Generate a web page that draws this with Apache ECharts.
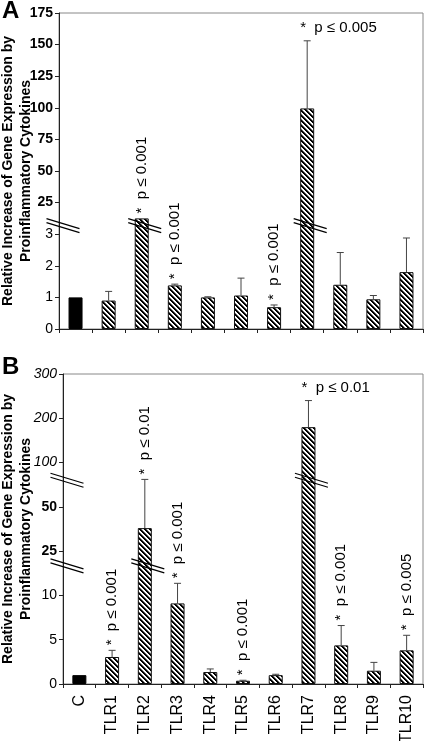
<!DOCTYPE html>
<html><head><meta charset="utf-8">
<script src="https://cdn.jsdelivr.net/npm/echarts@6/dist/echarts.min.js"></script>
<style>html,body{margin:0;padding:0;background:#fff;}#c{width:425px;height:741px;}</style>
</head><body><div id="c"></div>
<script>
// ---------- data ----------
const categories = ['C','TLR1','TLR2','TLR3','TLR4','TLR5','TLR6','TLR7','TLR8','TLR9','TLR10'];

// Panel A
const ticksA = [0,1,2,3,25,50,75,100,125,150,175];
const meanA  = [1.0,0.9,14,1.38,1.0,1.06,0.69,99.5,1.40,0.94,1.80];
const errA   = [null,1.19,null,1.42,1.02,1.61,0.76,153,2.42,1.06,2.88];
const annA   = ['','','*  p ≤ 0.001','*  p ≤ 0.001','','','*  p ≤ 0.001','*  p ≤ 0.005','','',''];
const annHorizA = [false,false,false,false,false,false,false,true,false,false,false];
const breakCatsA = [-1, 2, 7];      // -1 = on the y axis
const breakValsA = [9, 9, 9];

// Panel B
const ticksB = [0,5,10,25,50,100,200,300];
const meanB  = [1.0,3.05,38,9.1,1.35,0.37,1.0,180,4.36,1.5,3.8];
const errB   = [null,3.8,81,14.1,1.7,0.42,1.1,240,6.6,2.44,5.5];
const annB   = ['','*  p ≤ 0.001','*  p ≤ 0.01','*  p ≤ 0.001','','*  p ≤ 0.001','','*  p ≤ 0.01','*  p ≤ 0.001','','*  p ≤ 0.005'];
const annHorizB = [false,false,false,false,false,false,false,true,false,false,false];
const breakCatsB = [-1, -1, 2, 7];
const breakValsB = [20, 80, 20, 80];

const yTitle = 'Relative Increase of Gene Expression by\nProinflammatory Cytokines';

// ---------- helpers ----------
const FONT = 'Liberation Sans, Arial, Helvetica, sans-serif';
function toT(v, ticks){
  for (let i = 0; i < ticks.length - 1; i++) {
    if (v <= ticks[i+1]) return i + (v - ticks[i]) / (ticks[i+1] - ticks[i]);
  }
  return ticks.length - 1;
}
function hatchCanvas(){
  const p = 5, c = document.createElement('canvas');
  c.width = p; c.height = p;
  const ctx = c.getContext('2d');
  const img = ctx.createImageData(p, p);
  for (let y = 0; y < p; y++) for (let x = 0; x < p; x++) {
    const k = ((x - y) % p + p) % p;
    const g = k < 2 ? 0 : (k === 2 ? 110 : 255);
    const o = (y * p + x) * 4;
    img.data[o] = g; img.data[o+1] = g; img.data[o+2] = g; img.data[o+3] = 255;
  }
  ctx.putImageData(img, 0, 0);
  return c;
}
const hatch = hatchCanvas();

function barSeries(gi, mean, ticks){
  return {
    type:'bar', xAxisIndex:gi, yAxisIndex:gi, barWidth:14, z:2,
    data: mean.map((v,i)=>({value: toT(v,ticks), itemStyle: i===0 ? {color:'#000', borderColor:'#000'} : undefined})),
    itemStyle:{color:{image:hatch, repeat:'repeat'}, borderColor:'#111', borderWidth:1},
    silent:true, animation:false
  };
}
function errSeries(gi, mean, err, ticks){
  return {
    type:'custom', xAxisIndex:gi, yAxisIndex:gi, z:3, animation:false, silent:true,
    data: mean.map((v,i)=>[i, toT(v,ticks), err[i]==null ? -1 : toT(err[i],ticks)]),
    renderItem:(params, api)=>{
      const e = api.value(2);
      if (e < 0) return null;
      const b = api.coord([api.value(0), api.value(1)]);
      const t = api.coord([api.value(0), e]);
      return {type:'group', children:[
        {type:'line', shape:{x1:b[0], y1:b[1], x2:t[0], y2:t[1]}, style:{stroke:'#444', lineWidth:1}},
        {type:'line', shape:{x1:t[0]-3.5, y1:t[1], x2:t[0]+3.5, y2:t[1]}, style:{stroke:'#444', lineWidth:1}}
      ]};
    }
  };
}
function annSeries(gi, mean, err, ann, horiz, ticks){
  return {
    type:'custom', xAxisIndex:gi, yAxisIndex:gi, z:4, animation:false, silent:true, clip:false,
    data: mean.map((v,i)=>[i, toT(err[i]==null ? v : Math.max(v, err[i]), ticks)]),
    renderItem:(params, api)=>{
      const i = params.dataIndex;
      if (!ann[i]) return null;
      const p = api.coord([api.value(0), api.value(1)]);
      if (horiz[i]) {
        return {type:'text', x:p[0]-7, y:p[1]-5,
          style:{text:ann[i], align:'left', verticalAlign:'bottom', fontSize:15, fontFamily:FONT, fill:'#000'}};
      }
      return {type:'text', x:p[0], y:p[1]-5, rotation:Math.PI/2,
        style:{text:ann[i], align:'left', verticalAlign:'middle', fontSize:15, fontFamily:FONT, fill:'#000'}};
    }
  };
}
function breakSeries(gi, cats, vals, ticks){
  return {
    type:'custom', xAxisIndex:gi, yAxisIndex:gi, z:5, animation:false, silent:true, clip:false,
    data: cats.map((c,i)=>[c, toT(vals[i], ticks)]),
    renderItem:(params, api)=>{
      const c = api.value(0);
      const bw = api.size([1,0])[0];
      let p = api.coord([Math.max(c,0), api.value(1)]);
      let cx = c < 0 ? p[0] - bw/2 + 4 : p[0] + 3;
      const y = p[1];
      const l = 16.5, d = 5;
      return {type:'group', children:[
        {type:'line', shape:{x1:cx-l, y1:y-d-2, x2:cx+l, y2:y+d-2}, style:{stroke:'#000', lineWidth:1.2}},
        {type:'line', shape:{x1:cx-l, y1:y-d+2, x2:cx+l, y2:y+d+2}, style:{stroke:'#000', lineWidth:1.2}}
      ]};
    }
  };
}
function yAxis(gi, ticks, styler, nameGap){
  return {
    type:'value', gridIndex:gi, min:0, max:ticks.length-1, interval:1,
    axisLine:{show:true, lineStyle:{color:'#222', width:1}},
    axisTick:{show:true, length:4, lineStyle:{color:'#222'}},
    splitLine:{show:false},
    axisLabel:{
      margin:6, color:'#000', fontSize:14, fontFamily:FONT,
      formatter:(v)=>'{' + styler(v) + '|' + ticks[v] + '}',
      rich:{
        n:{fontSize:14, fontFamily:FONT, color:'#000'},
        b:{fontSize:14, fontFamily:FONT, color:'#000', fontWeight:'bold'},
        i:{fontSize:14, fontFamily:FONT, color:'#000', fontStyle:'italic'}
      }
    },
    name:yTitle, nameLocation:'middle', nameGap:nameGap, nameRotate:90, nameMoveOverlap:false,
    nameTextStyle:{fontWeight:'bold', fontSize:14, fontFamily:FONT, color:'#000', lineHeight:18}
  };
}
function xAxis(gi, showLabels){
  return {
    type:'category', gridIndex:gi, data:categories,
    axisLine:{show:true, lineStyle:{color:'#222', width:1}},
    axisTick:{show:true, length:4, interval:0, lineStyle:{color:'#222'}},
    axisLabel:{show:showLabels, interval:0, rotate:90, margin:11, fontSize:16, fontFamily:FONT, color:'#000'}
  };
}

const chart = echarts.init(document.getElementById('c'), null, {renderer:'canvas'});
chart.setOption({
  animation:false,
  backgroundColor:'#fff',
  grid:[
    {left:59, top:13, width:364, height:316, show:true, borderColor:'#888', borderWidth:1, backgroundColor:'transparent', containLabel:false, outerBoundsMode:'none'},
    {left:63, top:374, width:360, height:310, show:true, borderColor:'#888', borderWidth:1, backgroundColor:'transparent', containLabel:false, outerBoundsMode:'none'}
  ],
  xAxis:[xAxis(0,false), xAxis(1,true)],
  yAxis:[
    yAxis(0, ticksA, v => v >= 4 ? 'b' : 'n', 24),
    yAxis(1, ticksB, v => v >= 5 ? 'i' : (v >= 3 ? 'b' : 'n'), 28)
  ],
  series:[
    barSeries(0, meanA, ticksA), errSeries(0, meanA, errA, ticksA), annSeries(0, meanA, errA, annA, annHorizA, ticksA), breakSeries(0, breakCatsA, breakValsA, ticksA),
    barSeries(1, meanB, ticksB), errSeries(1, meanB, errB, ticksB), annSeries(1, meanB, errB, annB, annHorizB, ticksB), breakSeries(1, breakCatsB, breakValsB, ticksB)
  ],
  graphic:[
    {type:'text', left:2, top:-1, style:{text:'A', fontSize:24, fontWeight:'bold', fontFamily:FONT, fill:'#000'}},
    {type:'text', left:2, top:355, style:{text:'B', fontSize:24, fontWeight:'bold', fontFamily:FONT, fill:'#000'}}
  ]
});
</script></body></html>
